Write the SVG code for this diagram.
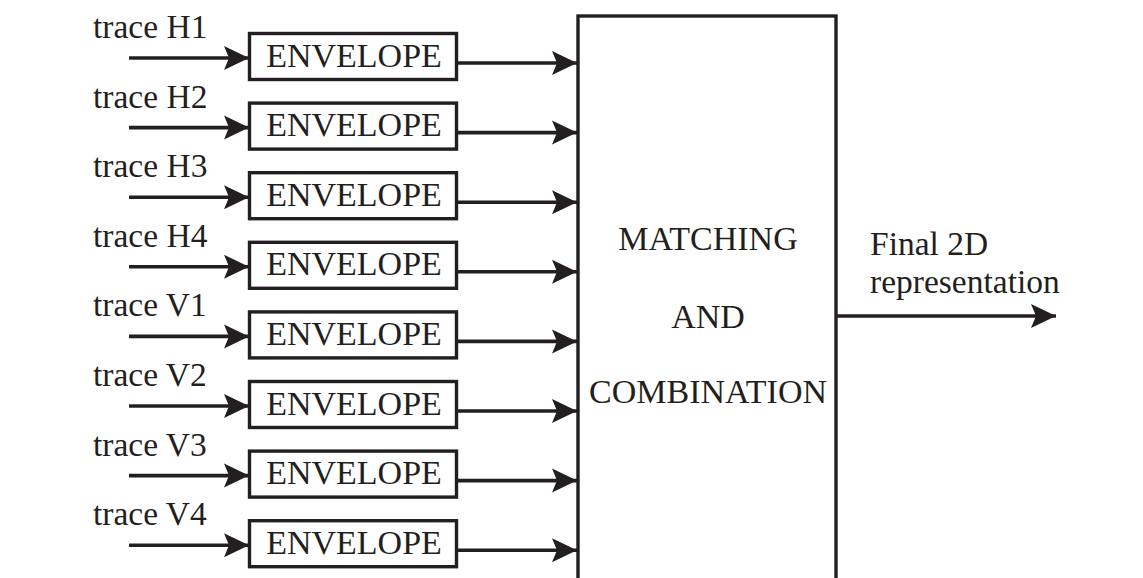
<svg xmlns="http://www.w3.org/2000/svg" width="1143" height="578" viewBox="0 0 1143 578">
<defs>
<style>
text{font-family:"Liberation Serif","Times New Roman",serif;fill:#231f20}
.lbl{font-size:33.5px}
.env{font-size:34px;text-anchor:middle}
.big{font-size:34px;text-anchor:middle}
.box{fill:#fff;stroke:#231f20;stroke-width:3.4}
.ln{stroke:#231f20;stroke-width:3.6;fill:none}
</style>
<marker id="ah" markerUnits="userSpaceOnUse" markerWidth="27" markerHeight="26" refX="25" refY="13" orient="auto" viewBox="0 0 27 26">
<path d="M0,1 L25,13 L0,25 L5,13 Z" fill="#231f20"/>
</marker>
</defs>
<rect width="1143" height="578" fill="#fff"/>
<g id="combiner">
<rect class="box" x="578" y="16" width="258" height="580"/>
<text class="big" x="708" y="250">MATCHING</text>
<text class="big" x="708" y="328">AND</text>
<text class="big" x="708" y="403">COMBINATION</text>
</g>
<g id="env-H1"><rect class="box" x="249.5" y="33.5" width="207" height="46"/><text class="env" x="354" y="66.5">ENVELOPE</text></g>
<g id="env-H2"><rect class="box" x="249.5" y="103.1" width="207" height="46"/><text class="env" x="354" y="136.1">ENVELOPE</text></g>
<g id="env-H3"><rect class="box" x="249.5" y="172.7" width="207" height="46"/><text class="env" x="354" y="205.7">ENVELOPE</text></g>
<g id="env-H4"><rect class="box" x="249.5" y="242.3" width="207" height="46"/><text class="env" x="354" y="275.3">ENVELOPE</text></g>
<g id="env-V1"><rect class="box" x="249.5" y="311.9" width="207" height="46"/><text class="env" x="354" y="344.9">ENVELOPE</text></g>
<g id="env-V2"><rect class="box" x="249.5" y="381.5" width="207" height="46"/><text class="env" x="354" y="414.5">ENVELOPE</text></g>
<g id="env-V3"><rect class="box" x="249.5" y="451.1" width="207" height="46"/><text class="env" x="354" y="484.1">ENVELOPE</text></g>
<g id="env-V4"><rect class="box" x="249.5" y="520.7" width="207" height="46"/><text class="env" x="354" y="553.7">ENVELOPE</text></g>
<g id="labels">
<text class="lbl" x="93" y="38">trace H1</text>
<text class="lbl" x="93" y="107.6">trace H2</text>
<text class="lbl" x="93" y="177.2">trace H3</text>
<text class="lbl" x="93" y="246.8">trace H4</text>
<text class="lbl" x="93" y="316.4">trace V1</text>
<text class="lbl" x="93" y="386">trace V2</text>
<text class="lbl" x="93" y="455.6">trace V3</text>
<text class="lbl" x="93" y="525.2">trace V4</text>
<text class="lbl" x="870" y="255">Final 2D</text>
<text class="lbl" x="870" y="293">representation</text>
</g>
<g id="connectors">
<line class="ln" x1="129" y1="58" x2="249" y2="58" marker-end="url(#ah)"/>
<line class="ln" x1="129" y1="127.6" x2="249" y2="127.6" marker-end="url(#ah)"/>
<line class="ln" x1="129" y1="197.2" x2="249" y2="197.2" marker-end="url(#ah)"/>
<line class="ln" x1="129" y1="266.8" x2="249" y2="266.8" marker-end="url(#ah)"/>
<line class="ln" x1="129" y1="336.4" x2="249" y2="336.4" marker-end="url(#ah)"/>
<line class="ln" x1="129" y1="406" x2="249" y2="406" marker-end="url(#ah)"/>
<line class="ln" x1="129" y1="475.6" x2="249" y2="475.6" marker-end="url(#ah)"/>
<line class="ln" x1="129" y1="545.2" x2="249" y2="545.2" marker-end="url(#ah)"/>
<line class="ln" x1="458" y1="63" x2="577" y2="63" marker-end="url(#ah)"/>
<line class="ln" x1="458" y1="132.6" x2="577" y2="132.6" marker-end="url(#ah)"/>
<line class="ln" x1="458" y1="202.2" x2="577" y2="202.2" marker-end="url(#ah)"/>
<line class="ln" x1="458" y1="271.8" x2="577" y2="271.8" marker-end="url(#ah)"/>
<line class="ln" x1="458" y1="341.4" x2="577" y2="341.4" marker-end="url(#ah)"/>
<line class="ln" x1="458" y1="411" x2="577" y2="411" marker-end="url(#ah)"/>
<line class="ln" x1="458" y1="480.6" x2="577" y2="480.6" marker-end="url(#ah)"/>
<line class="ln" x1="458" y1="550.2" x2="577" y2="550.2" marker-end="url(#ah)"/>
<line class="ln" x1="837" y1="316" x2="1056" y2="316" marker-end="url(#ah)"/>
</g>
</svg>
